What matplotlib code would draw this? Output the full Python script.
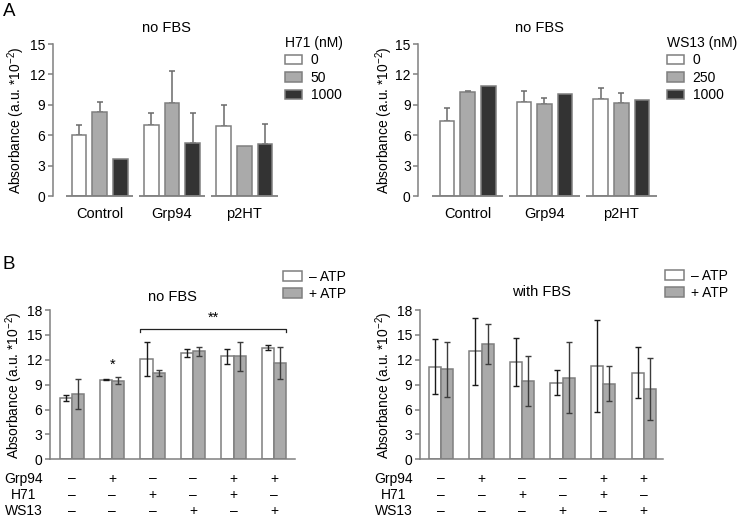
import numpy as np
import matplotlib.pyplot as plt

plt.rcParams['font.family'] = ['Liberation Sans', 'DejaVu Sans']
plt.rcParams['mathtext.fontset'] = 'custom'
plt.rcParams['mathtext.rm'] = 'Liberation Sans'
plt.rcParams['mathtext.it'] = 'Liberation Sans:italic'

# ---------------- data ----------------
groups_a = ['Control', 'Grp94', 'p2HT']

h71_doses = ['0', '50', '1000']
h71_means = [[6.0, 7.05, 6.9], [8.25, 9.2, 4.95], [3.7, 5.25, 5.15]]
h71_err = [[1.05, 1.15, 2.1], [1.0, 3.15, 0.0], [0.0, 2.9, 1.95]]

ws13_doses = ['0', '250', '1000']
ws13_means = [[7.45, 9.25, 9.55], [10.3, 9.1, 9.15], [10.9, 10.1, 9.45]]
ws13_err = [[1.25, 1.1, 1.1], [0.1, 0.55, 1.05], [0.0, 0.0, 0.0]]

atp_labels = ['\u2013 ATP', '+ ATP']
nofbs_minus = [7.35, 9.62, 12.1, 12.85, 12.4, 13.45]
nofbs_minus_err = [0.35, 0.05, 2.05, 0.5, 0.9, 0.3]
nofbs_plus = [7.85, 9.5, 10.45, 13.0, 12.4, 11.6]
nofbs_plus_err = [1.8, 0.48, 0.36, 0.52, 1.7, 1.9]

fbs_minus = [11.15, 13.0, 11.7, 9.25, 11.25, 10.45]
fbs_minus_err = [3.3, 4.05, 2.9, 1.55, 5.6, 3.05]
fbs_plus = [10.85, 13.9, 9.45, 9.85, 9.1, 8.5]
fbs_plus_err = [3.3, 2.45, 3.0, 4.3, 2.1, 3.75]

cond_rows = ['Grp94', 'H71', 'WS13']
cond_grp94 = ['\u2013', '+', '\u2013', '\u2013', '+', '+']
cond_h71 = ['\u2013', '\u2013', '+', '\u2013', '+', '\u2013']
cond_ws13 = ['\u2013', '\u2013', '\u2013', '+', '\u2013', '+']

# ---------------- style ----------------
W, H = 740, 518
fills3 = ['#ffffff', '#aaaaaa', '#333333']
fills2 = ['#ffffff', '#aaaaaa']
edge = '#7f7f7f'
axcol = '#808080'
ylab = 'Absorbance (a.u. *10$^{\\mathrm{-2}}$)'
FS = 10

fig = plt.figure(figsize=(W / 100, H / 100), dpi=100)


def px_axes(left, top, right, bottom):
    return fig.add_axes([left / W, 1 - bottom / H, (right - left) / W, (bottom - top) / H])


def ftext(x, y, s, **kw):
    fig.text(x / W, 1 - y / H, s, **kw)


def style_axes(ax, ymax, step):
    ax.set_ylim(0, ymax)
    ax.set_yticks(np.arange(0, ymax + 0.1, step))
    for s in ['top', 'right']:
        ax.spines[s].set_visible(False)
    for s in ['left', 'bottom']:
        ax.spines[s].set_color(axcol)
        ax.spines[s].set_linewidth(1.1)
    ax.tick_params(axis='y', direction='out', length=3.5, width=1.1, color=axcol,
                   labelsize=FS, pad=2)
    ax.set_ylabel(ylab, fontsize=FS)


def panel_a(ax, means, errs, doses, title, legtitle, leg_xy, spacing_px):
    x = np.arange(len(groups_a))
    pitch = 20.7 / spacing_px
    width = 14.5 / spacing_px
    handles = []
    for i in range(len(doses)):
        xs = x + (i - 1) * pitch
        b = ax.bar(xs, means[i], width, color=fills3[i], edgecolor=edge, linewidth=1.1, zorder=2)
        handles.append(b)
        e = np.array(errs[i])
        m = e > 0
        ax.errorbar(xs[m], np.array(means[i])[m], yerr=[np.zeros(m.sum()), e[m]], fmt='none',
                    ecolor='#6a6a6a', elinewidth=1.1, capsize=2.3, capthick=1.1, zorder=1)
    style_axes(ax, 15, 3)
    ax.spines['bottom'].set_visible(False)
    for xi in x:
        ax.hlines(0, xi - 0.46, xi + 0.46, color=axcol, linewidth=1.3, clip_on=False, zorder=3)
    ax.set_xticks(x)
    ax.set_xticklabels(groups_a, fontsize=FS + 0.5)
    ax.tick_params(axis='x', length=0, pad=8)
    ax.set_title(title, fontsize=FS + 0.5, pad=8.5)
    fig.legend(handles, doses, title=legtitle, loc='upper left',
               bbox_to_anchor=(leg_xy[0] / W, 1 - leg_xy[1] / H), frameon=False,
               fontsize=FS, title_fontsize=FS, handlelength=1.25,
               handleheight=0.65, handletextpad=0.6, labelspacing=0.25,
               borderpad=0, borderaxespad=0, alignment='left')
    return ax


def panel_b(ax, minus, minus_err, plus, plus_err, title, leg_xy, tpad):
    x = np.arange(len(minus))
    width = 0.3
    handles = []
    for i, (vals, errs, ec) in enumerate([(minus, minus_err, '#1a1a1a'),
                                          (plus, plus_err, '#3c3c3c')]):
        xs = x + (i - 0.5) * width
        b = ax.bar(xs, vals, width, color=fills2[i], edgecolor=edge, linewidth=1.1, zorder=2)
        handles.append(b)
        ax.errorbar(xs, vals, yerr=errs, fmt='none', ecolor=ec, elinewidth=1.0,
                    capsize=2.3, capthick=1.0, zorder=3)
    style_axes(ax, 18, 3)
    ax.set_xticks([])
    ax.set_title(title, fontsize=FS + 0.5, pad=tpad)
    fig.legend(handles, atp_labels, loc='upper left',
               bbox_to_anchor=(leg_xy[0] / W, 1 - leg_xy[1] / H), frameon=False,
               fontsize=FS, handlelength=1.4, handleheight=0.8, handletextpad=0.5,
               labelspacing=0.2, borderpad=0, borderaxespad=0)
    return ax


# ---------------- panel A ----------------
ax1 = px_axes(53, 44, 280, 196)
panel_a(ax1, h71_means, h71_err, h71_doses, 'no FBS', 'H71 (nM)', (285, 36), 72.3)
ax1.set_xlim(-0.646, 2.494)
ax1.yaxis.set_label_coords(-0.1145, 0.5)

ax2 = px_axes(418.3, 44, 660, 196)
panel_a(ax2, ws13_means, ws13_err, ws13_doses, 'no FBS', 'WS13 (nM)', (667, 36), 76.8)
ax2.set_xlim(-0.643, 2.504)
ax2.yaxis.set_label_coords(-0.0964, 0.5)

# ---------------- panel B ----------------
ax3 = px_axes(50, 310, 295, 459.3)
panel_b(ax3, nofbs_minus, nofbs_minus_err, nofbs_plus, nofbs_plus_err, 'no FBS', (283, 270), 6.5)
ax3.set_xlim(-0.536, 5.52)
ax3.yaxis.set_label_coords(-0.102, 0.5)
# significance marks
ax3.text(1, 10.6, '*', ha='center', va='bottom', fontsize=FS + 0.5)
ax3.plot([1.7, 1.7, 5.3, 5.3], [15.3, 15.66, 15.66, 15.3], color='#222222', lw=0.9)
ax3.text(3.5, 16.2, '**', ha='center', va='bottom', fontsize=FS + 0.5)

ax4 = px_axes(420, 310, 663, 459.3)
panel_b(ax4, fbs_minus, fbs_minus_err, fbs_plus, fbs_plus_err, 'with FBS', (665, 269), 10)
ax4.set_xlim(-0.518, 5.476)
ax4.yaxis.set_label_coords(-0.103, 0.5)

# condition table under panel B
for ax, lab_x in [(ax3, 24), (ax4, 394)]:
    tr = ax.get_xaxis_transform()
    for r, (name, row) in enumerate(zip(cond_rows, [cond_grp94, cond_h71, cond_ws13])):
        ypx = 478.5 + r * 16.2
        ftext(lab_x, ypx, name, ha='center', va='center', fontsize=FS)
        yax = (459.3 - ypx) / (459.3 - 310)
        for k, s in enumerate(row):
            ax.text(k, yax, s, transform=tr, ha='center', va='center', fontsize=FS,
                    clip_on=False)

# panel letters
ftext(3, 3, 'A', ha='left', va='top', fontsize=13.5)
ftext(3, 256, 'B', ha='left', va='top', fontsize=13.5)

fig.savefig('out.png', dpi=100)
